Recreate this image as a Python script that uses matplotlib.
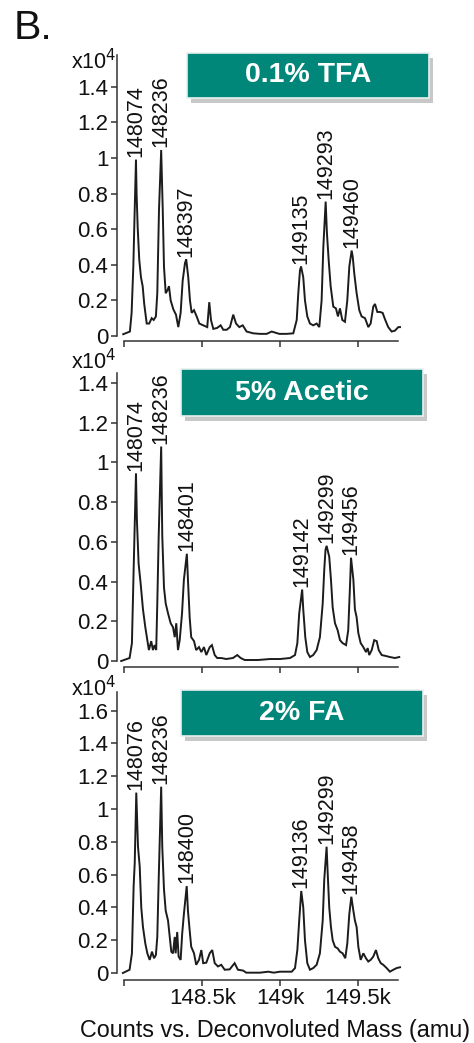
import matplotlib
matplotlib.use('Agg')
import matplotlib.pyplot as plt
import matplotlib.patches as patches
import matplotlib.ticker as mticker
import numpy as np

# deconvoluted spectra, intensity in units of 1e4 counts
mass_tfa = [147992, 148035, 148046, 148057, 148063, 148074, 148078, 148085, 148095, 148106,
            148117, 148127, 148143, 148159, 148175, 148188, 148202, 148211, 148222, 148236,
            148246, 148254, 148265, 148278, 148286, 148297, 148314, 148331, 148346, 148361,
            148374, 148389, 148397, 148410, 148421, 148432, 148447, 148464, 148481, 148506,
            148532, 148545, 148556, 148571, 148595, 148618, 148635, 148657, 148678, 148699,
            148717, 148738, 148760, 148785, 148828, 148870, 148914, 148946, 148995, 149042,
            149085, 149107, 149117, 149128, 149135, 149149, 149160, 149175, 149192, 149213,
            149235, 149252, 149267, 149278, 149293, 149301, 149312, 149325, 149342, 149359,
            149372, 149385, 149400, 149417, 149432, 149445, 149460, 149467, 149477, 149492,
            149509, 149524, 149546, 149567, 149582, 149599, 149610, 149625, 149642, 149659,
            149676, 149695, 149717, 149738, 149760, 149771]
counts_tfa = [0.01, 0.025, 0.13, 0.39, 0.61, 0.99, 0.80, 0.61, 0.43, 0.33,
              0.28, 0.18, 0.07, 0.07, 0.10, 0.09, 0.11, 0.24, 0.71, 1.045,
              0.71, 0.39, 0.24, 0.26, 0.28, 0.20, 0.15, 0.12, 0.05, 0.13,
              0.31, 0.41, 0.43, 0.33, 0.20, 0.13, 0.145, 0.11, 0.07, 0.06,
              0.05, 0.19, 0.09, 0.04, 0.045, 0.06, 0.035, 0.035, 0.05, 0.12,
              0.07, 0.05, 0.06, 0.025, 0.015, 0.012, 0.012, 0.025, 0.012, 0.012,
              0.015, 0.09, 0.24, 0.37, 0.39, 0.33, 0.20, 0.11, 0.07, 0.06,
              0.07, 0.05, 0.20, 0.50, 0.755, 0.58, 0.43, 0.28, 0.165, 0.155,
              0.11, 0.155, 0.09, 0.08, 0.20, 0.39, 0.48, 0.445, 0.35, 0.24,
              0.145, 0.11, 0.10, 0.05, 0.07, 0.165, 0.18, 0.135, 0.135, 0.13,
              0.09, 0.05, 0.025, 0.03, 0.05, 0.05]

mass_acetic = [147979, 148033, 148048, 148059, 148074, 148080, 148091, 148104, 148119, 148134,
               148147, 148157, 148172, 148183, 148194, 148204, 148211, 148220, 148236, 148243,
               148254, 148265, 148280, 148297, 148312, 148323, 148333, 148344, 148355, 148370,
               148382, 148401, 148408, 148419, 148429, 148447, 148461, 148479, 148494, 148511,
               148526, 148548, 148562, 148580, 148596, 148622, 148654, 148697, 148725, 148747,
               148773, 148858, 148935, 149000, 149064, 149096, 149111, 149123, 149142, 149149,
               149162, 149175, 149192, 149213, 149235, 149256, 149274, 149284, 149292, 149299,
               149316, 149327, 149338, 149353, 149370, 149385, 149402, 149424, 149438, 149449,
               149456, 149471, 149481, 149492, 149503, 149518, 149535, 149552, 149563, 149573,
               149589, 149605, 149621, 149634, 149653, 149681, 149706, 149738, 149766]
counts_acetic = [0.0, 0.015, 0.09, 0.46, 0.945, 0.71, 0.49, 0.39, 0.26, 0.17,
                 0.105, 0.055, 0.10, 0.055, 0.08, 0.055, 0.29, 0.63, 1.08, 0.63,
                 0.37, 0.29, 0.24, 0.19, 0.17, 0.12, 0.19, 0.055, 0.105, 0.24,
                 0.41, 0.54, 0.41, 0.22, 0.12, 0.10, 0.055, 0.07, 0.045, 0.07,
                 0.03, 0.07, 0.08, 0.03, 0.015, 0.015, 0.01, 0.015, 0.03, 0.015,
                 0.005, 0.005, 0.01, 0.01, 0.015, 0.03, 0.09, 0.24, 0.36, 0.26,
                 0.12, 0.045, 0.02, 0.03, 0.055, 0.12, 0.29, 0.46, 0.56, 0.58,
                 0.525, 0.41, 0.27, 0.19, 0.155, 0.105, 0.09, 0.08, 0.155, 0.37,
                 0.52, 0.41, 0.26, 0.22, 0.14, 0.09, 0.07, 0.045, 0.065, 0.03,
                 0.055, 0.105, 0.10, 0.055, 0.03, 0.025, 0.02, 0.015, 0.02]

mass_fa = [147990, 148033, 148048, 148059, 148066, 148076, 148087, 148098, 148108, 148119,
           148134, 148147, 148162, 148177, 148190, 148202, 148211, 148220, 148236, 148243,
           148254, 148265, 148280, 148291, 148301, 148312, 148323, 148329, 148339, 148348,
           148361, 148371, 148382, 148400, 148408, 148419, 148429, 148447, 148461, 148479,
           148494, 148506, 148526, 148548, 148564, 148580, 148601, 148622, 148644, 148676,
           148708, 148729, 148762, 148783, 148871, 148924, 148960, 148999, 149075, 149096,
           149111, 149123, 149136, 149149, 149160, 149175, 149192, 149213, 149235, 149256,
           149274, 149284, 149299, 149306, 149316, 149327, 149338, 149353, 149370, 149385,
           149402, 149419, 149432, 149445, 149458, 149471, 149481, 149492, 149503, 149518,
           149535, 149552, 149567, 149582, 149599, 149616, 149631, 149647, 149663, 149685,
           149706, 149728, 149749, 149771]
counts_fa = [0.0, 0.02, 0.12, 0.53, 0.67, 1.10, 0.77, 0.65, 0.40, 0.28,
             0.18, 0.12, 0.08, 0.13, 0.09, 0.11, 0.22, 0.57, 1.136, 0.77,
             0.51, 0.38, 0.32, 0.22, 0.13, 0.12, 0.22, 0.12, 0.25, 0.10,
             0.08, 0.24, 0.36, 0.53, 0.38, 0.26, 0.16, 0.12, 0.05, 0.08,
             0.14, 0.06, 0.063, 0.12, 0.14, 0.06, 0.04, 0.05, 0.02, 0.022,
             0.06, 0.02, 0.015, 0.002, 0.002, 0.008, 0.002, 0.008, 0.008, 0.03,
             0.14, 0.32, 0.50, 0.40, 0.20, 0.06, 0.02, 0.03, 0.05, 0.12,
             0.32, 0.57, 0.77, 0.61, 0.40, 0.28, 0.20, 0.16, 0.15, 0.13,
             0.12, 0.09, 0.18, 0.36, 0.465, 0.38, 0.32, 0.28, 0.16, 0.08,
             0.12, 0.09, 0.07, 0.08, 0.10, 0.14, 0.09, 0.06, 0.05, 0.03,
             0.008, 0.02, 0.03, 0.035]

peaks_tfa = [148074, 148236, 148397, 149135, 149293, 149460]
peaks_acetic = [148074, 148236, 148401, 149142, 149299, 149456]
peaks_fa = [148076, 148236, 148400, 149136, 149299, 149458]

titles = ['0.1% TFA', '5% Acetic', '2% FA']
xticks = [148000, 148500, 149000, 149500]
xtick_labels = ['', '148.5k', '149k', '149.5k']
ytop = [1.4, 1.4, 1.6]

plt.rcParams['font.family'] = ['Liberation Sans', 'DejaVu Sans']

W, H = 474, 1043
fig = plt.figure(figsize=(W / 100, H / 100), dpi=100)

TEAL = '#00877a'
INK = '#1c1c1c'
XMIN, XMAX = 147990, 149772

# pixel layout: (y of zero line, y of axes top, box left, box top, box right, box bottom, x10 label y)
layout = [
    (336, 55, 187, 53, 429, 98, 62),
    (661, 373, 181, 369, 423, 416, 362),
    (973, 692, 181, 690, 423, 736, 689),
]
spectra = [(mass_tfa, counts_tfa, peaks_tfa),
           (mass_acetic, counts_acetic, peaks_acetic),
           (mass_fa, counts_fa, peaks_fa)]
scales = [178.0, 198.6, 164.0]  # pixels per 1e4 counts

ax_left, ax_right = 122.9, 400.2

for i, ((m, c, pk), (y0, yt, bx0, by0, bx1, by1, ly)) in enumerate(zip(spectra, layout)):
    ax = fig.add_axes([ax_left / W, 1 - y0 / H, (ax_right - ax_left) / W, (y0 - yt) / H])
    ymax = (y0 - yt) / scales[i]
    ax.plot(m, c, color=INK, lw=1.4, clip_on=False, solid_joinstyle='miter')
    ax.set_xlim(XMIN, XMAX)
    ax.set_ylim(0, ymax)

    for s in ['top', 'right']:
        ax.spines[s].set_visible(False)
    ax.spines['left'].set_position(('outward', 4.5))
    ax.spines['bottom'].set_position(('outward', 3.5 + i * 0.7))
    ax.spines['left'].set_bounds(0, ymax)
    ax.spines['bottom'].set_bounds(148000, 149760)
    for s in ['left', 'bottom']:
        ax.spines[s].set_color('#333333')
        ax.spines[s].set_linewidth(1.1)

    ax.set_yticks(np.arange(0, ytop[i] + 0.01, 0.2))
    ax.yaxis.set_major_formatter(mticker.FormatStrFormatter('%g'))
    ax.set_xticks(xticks)
    if i == 2:
        ax.set_xticklabels(xtick_labels)
    else:
        ax.set_xticklabels([])
    ax.tick_params(axis='both', direction='out', length=4.5, width=1.1, color='#333333',
                   labelsize=16, pad=1.5, labelcolor='#111111')

    for p in pk:
        ax.annotate(str(p), xy=(p, np.interp(p, m, c)), xytext=(0, 2),
                    textcoords='offset points', rotation=90, ha='center', va='bottom',
                    fontsize=15.5, color='#111111', annotation_clip=False)

    # x10^4 multiplier
    fig.text(116 / W, 1 - ly / H, r'x10$^4$', ha='right', va='center', fontsize=15.5,
             color='#111111')

    # title box with shadow
    fig.add_artist(patches.Rectangle(((bx0 + 4) / W, 1 - (by1 + 5) / H), (bx1 - bx0) / W,
                                     (by1 - by0) / H, transform=fig.transFigure,
                                     facecolor='#c8c8c8', edgecolor='none'))
    fig.add_artist(patches.Rectangle((bx0 / W, 1 - by1 / H), (bx1 - bx0) / W,
                                     (by1 - by0) / H, transform=fig.transFigure,
                                     facecolor=TEAL, edgecolor='#e8f0ee', lw=1.2))
    fig.text((bx0 + bx1) / 2 / W, 1 - (by0 + by1) / 2 / H, titles[i], ha='center',
             va='center', fontsize=20.5, fontweight='bold', color='white')

fig.text(14 / W, 1 - 28 / H, 'B.', ha='left', va='center', fontsize=29.5, color='#111111')
fig.text(275 / W, 1 - 1030 / H, 'Counts vs. Deconvoluted Mass (amu)', ha='center',
         va='center', fontsize=16.8, color='#111111')

fig.savefig('out.png', dpi=100, facecolor='white')
